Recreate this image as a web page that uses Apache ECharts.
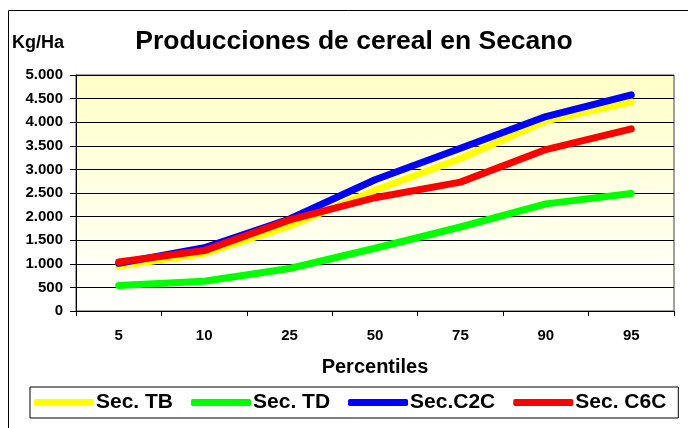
<!DOCTYPE html>
<html>
<head>
<meta charset="utf-8">
<script src="https://cdn.jsdelivr.net/npm/echarts@6/dist/echarts.min.js"></script>
<style>
html,body{margin:0;padding:0;background:#fff;}
#main{width:688px;height:428px;}
</style>
</head>
<body>
<div id="main"></div>
<script>
const categories = ['5', '10', '25', '50', '75', '90', '95'];
const secTB  = [950, 1220, 1800, 2560, 3230, 4030, 4430];
const secTD  = [540, 630, 900, 1330, 1780, 2270, 2490];
const secC2C = [1010, 1340, 1950, 2780, 3450, 4120, 4580];
const secC6C = [1040, 1280, 1930, 2400, 2730, 3420, 3860];
const seriesNames = ['Sec. TB', 'Sec. TD', 'Sec.C2C', 'Sec. C6C'];
const seriesColors = ['#FFFF00', '#00FF00', '#0000FF', '#FF0000'];
const titleText = 'Producciones de cereal en Secano';
const yUnit = 'Kg/Ha';
const xName = 'Percentiles';

const FF = '"Liberation Sans", Arial, sans-serif';
function fmt(v){ return String(v).replace(/\B(?=(\d{3})+(?!\d))/g, '.'); }

const chart = echarts.init(document.getElementById('main'), null, {renderer:'canvas'});
const dataArr = [secTB, secTD, secC2C, secC6C];
chart.setOption({
  animation: false,
  backgroundColor: '#fff',
  title: [
    {text: titleText, left: 354, textAlign: 'center', top: 28, padding: 0,
     textStyle: {fontFamily: FF, fontWeight: 'bold', fontSize: 26.5, color: '#000'}},
    {text: yUnit, left: 12, top: 34, padding: 0,
     textStyle: {fontFamily: FF, fontWeight: 'bold', fontSize: 18, color: '#000'}},
    {text: xName, left: 375, textAlign: 'center', top: 357, padding: 0,
     textStyle: {fontFamily: FF, fontWeight: 'bold', fontSize: 20, color: '#000'}}
  ],
  graphic: [
    {type: 'rect', shape: {x: 8.5, y: 10.5, width: 700, height: 440}, silent: true, z: -10,
     style: {fill: 'none', stroke: '#000', lineWidth: 1}}
  ],
  legend: {
    data: seriesNames.map((n, i) => ({name: n, icon: 'roundRect', itemStyle: {color: seriesColors[i]}})),
    left: 30, top: 387,
    padding: [5, 12, 5, 4],
    itemWidth: 60, itemHeight: 7, itemGap: 18,
    borderColor: '#000', borderWidth: 1,
    textStyle: {fontFamily: FF, fontWeight: 'bold', fontSize: 21, color: '#000', padding: [0, 0, 0, -3]}
  },
  grid: {
    left: 76, right: 14, top: 75, bottom: 117,
    show: true, borderColor: '#404040', borderWidth: 1,
    backgroundColor: new echarts.graphic.LinearGradient(0, 0, 0, 1, [
      {offset: 0, color: '#FFFFC8'}, {offset: 1, color: '#FFFFFF'}
    ])
  },
  xAxis: {
    type: 'category', data: categories, boundaryGap: true,
    axisLine: {lineStyle: {color: '#000', width: 1}},
    axisTick: {show: true, length: 5, alignWithLabel: false, lineStyle: {color: '#000'}},
    axisLabel: {fontFamily: FF, fontWeight: 'bold', fontSize: 15, color: '#000', margin: 17},
    splitLine: {show: false}
  },
  yAxis: {
    type: 'value', min: 0, max: 5000, interval: 500,
    axisLine: {show: true, lineStyle: {color: '#000', width: 1}},
    axisTick: {show: true, length: 6, lineStyle: {color: '#000'}},
    axisLabel: {fontFamily: FF, fontWeight: 'bold', fontSize: 15, color: '#000', margin: 13, formatter: fmt},
    splitLine: {show: true, lineStyle: {color: '#000', width: 1}}
  },
  series: dataArr.map((d, i) => ({
    name: seriesNames[i], type: 'line', data: d,
    showSymbol: false, symbol: 'none',
    lineStyle: {color: seriesColors[i], width: 7, cap: 'round', join: 'round'},
    itemStyle: {color: seriesColors[i]},
    z: 2 + i
  }))
});
</script>
</body>
</html>
